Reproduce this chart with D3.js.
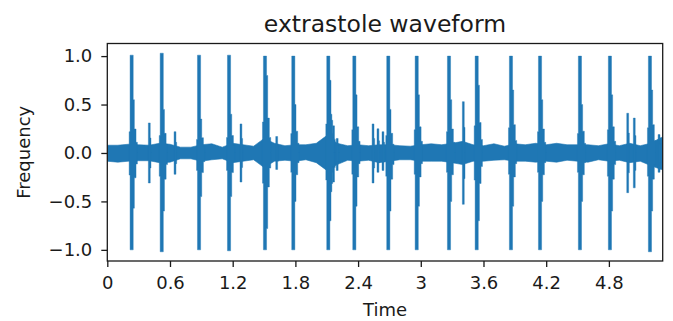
<!DOCTYPE html>
<html>
<head>
<meta charset="utf-8">
<script src="https://cdn.jsdelivr.net/npm/d3@7"></script>
<style>
  body { margin: 0; background: #fff; }
  text { font-family: "DejaVu Sans", sans-serif; }
</style>
</head>
<body>
<svg id="chart" width="673" height="321"></svg>
<script>
// Heart beats: time (s), peak, trough, and the level of the wider "shoulder" around each spike
const beatTimes = [0.233, 0.521, 0.878, 1.165, 1.509, 1.780, 2.115, 2.364, 2.689, 2.961, 3.270, 3.535, 3.863, 4.141, 4.523, 4.810, 5.193];
const beatPeaks = [1.01, 1.03, 1.01, 1.01, 1.0, 1.0, 1.0, 1.0, 1.0, 1.0, 1.0, 1.0, 1.0, 1.0, 1.0, 1.0, 1.0];
const beatTroughs = [-1.0, -1.02, -1.0, -1.01, -1.0, -1.0, -1.0, -1.0, -1.0, -1.0, -1.0, -1.0, -1.0, -1.0, -1.0, -1.0, -1.02];
const beatShoulderUp = [0.55, 0.45, 0.35, 0.4, 0.8, 0.5, 0.75, 0.6, 0.45, 0.6, 0.55, 0.7, 0.65, 0.55, 0.5, 0.6, 0.65];
const beatShoulderLo = [-0.57, -0.6, -0.45, -0.45, -0.78, -0.5, -0.7, -0.55, -0.6, -0.55, -0.5, -0.7, -0.55, -0.5, -0.5, -0.6, -0.6];

// Smaller bursts between the beats
const minorTimes = [0.402, 0.648, 1.279, 1.621, 2.140, 2.165, 2.2, 2.543, 2.59, 2.638, 3.407, 4.98, 5.043, 5.28];
const minorUp = [0.31, 0.22, 0.30, 0.17, 0.40, 0.28, 0.15, 0.30, 0.25, 0.22, 0.53, 0.41, 0.36, 0.19];
const minorLo = [-0.31, -0.22, -0.30, -0.17, -0.40, -0.30, -0.18, -0.31, -0.2, -0.18, -0.53, -0.41, -0.36, -0.2];

// Background noise envelope, every 0.1 s
const noiseTimes = [0.0, 0.1, 0.2, 0.3, 0.4, 0.5, 0.6, 0.7, 0.8, 0.9, 1.0, 1.1, 1.2, 1.3, 1.4, 1.5, 1.6, 1.7, 1.8, 1.9,
  2.0, 2.1, 2.2, 2.3, 2.4, 2.5, 2.6, 2.7, 2.8, 2.9, 3.0, 3.1, 3.2, 3.3, 3.4, 3.5, 3.6, 3.7, 3.8, 3.9,
  4.0, 4.1, 4.2, 4.3, 4.4, 4.5, 4.6, 4.7, 4.8, 4.9, 5.0, 5.1, 5.2, 5.3, 5.32];
const noiseUp = [0.08, 0.08, 0.09, 0.085, 0.08, 0.10, 0.09, 0.06, 0.06, 0.085, 0.095, 0.06, 0.10, 0.085, 0.07, 0.15, 0.10, 0.075, 0.085, 0.085,
  0.10, 0.18, 0.10, 0.075, 0.085, 0.075, 0.085, 0.085, 0.075, 0.07, 0.085, 0.095, 0.085, 0.10, 0.12, 0.085, 0.075, 0.095, 0.07, 0.095,
  0.085, 0.10, 0.085, 0.10, 0.085, 0.085, 0.085, 0.075, 0.095, 0.075, 0.10, 0.075, 0.10, 0.16, 0.16];
const noiseLo = [-0.085, -0.095, -0.085, -0.08, -0.08, -0.10, -0.095, -0.06, -0.06, -0.085, -0.07, -0.06, -0.10, -0.085, -0.07, -0.15, -0.085, -0.075, -0.085, -0.07,
  -0.10, -0.18, -0.12, -0.075, -0.085, -0.075, -0.10, -0.085, -0.07, -0.07, -0.085, -0.085, -0.085, -0.10, -0.12, -0.085, -0.085, -0.075, -0.07, -0.085,
  -0.085, -0.095, -0.085, -0.095, -0.075, -0.085, -0.095, -0.07, -0.085, -0.075, -0.10, -0.085, -0.13, -0.17, -0.17];

const xTickValues = [0, 0.6, 1.2, 1.8, 2.4, 3.0, 3.6, 4.2, 4.8];
const xTickLabels = ["0", "0.6", "1.2", "1.8", "2.4", "3", "3.6", "4.2", "4.8"];
const yTickValues = [-1.0, -0.5, 0.0, 0.5, 1.0];

const width = 673;
const height = 321;
const margin = { top: 43.5, right: 10.3, bottom: 60, left: 107.3 };
const innerW = width - margin.left - margin.right;
const innerH = height - margin.top - margin.bottom;
const color = "#1f77b4";
const textColor = "#1a1a1a";

const svg = d3.select("#chart");

const x = d3.scaleLinear().domain([0, 5.315]).range([margin.left, width - margin.right]);
const y = d3.scaleLinear().domain([-1.115, 1.13]).range([height - margin.bottom, margin.top]);

svg.append("defs").append("clipPath")
    .attr("id", "plot-clip")
  .append("rect")
    .attr("x", margin.left)
    .attr("y", margin.top)
    .attr("width", innerW)
    .attr("height", innerH);

const plot = svg.append("g").attr("clip-path", "url(#plot-clip)");

const area = d3.area()
    .x(d => x(d[0]))
    .y0(d => y(d[2]))
    .y1(d => y(d[1]));

const stepArea = d3.area()
    .curve(d3.curveStepAfter)
    .x(d => x(d[0]))
    .y0(d => y(d[2]))
    .y1(d => y(d[1]));

// noise band
const noise = noiseTimes.map((t, i) => [t, noiseUp[i], noiseLo[i]]);
plot.append("path")
    .attr("class", "noise")
    .attr("d", area(noise))
    .attr("fill", color)
    .attr("stroke", color)
    .attr("stroke-width", 0.6)
    .attr("stroke-linejoin", "round");

// minor bursts
const minorShape = (t, up, lo) => [
    [t - 0.009, up, lo],
    [t + 0.009, up * 0.5, lo * 0.5],
    [t + 0.016, 0, 0]
];
plot.selectAll("path.minor")
    .data(minorTimes.map((t, i) => minorShape(t, minorUp[i], minorLo[i])))
    .join("path")
    .attr("class", "minor")
    .attr("d", stepArea)
    .attr("fill", color)
    .attr("stroke", color)
    .attr("stroke-width", 0.4);

// beats
const beatShape = i => {
    const t = beatTimes[i];
    return [
        [t - 0.024, beatShoulderUp[i] * 0.4, beatShoulderLo[i] * 0.4],
        [t - 0.015, beatPeaks[i], beatTroughs[i]],
        [t + 0.015, beatShoulderUp[i], beatShoulderLo[i]],
        [t + 0.026, beatShoulderUp[i] * 0.45, beatShoulderLo[i] * 0.45],
        [t + 0.042, beatShoulderUp[i] * 0.2, beatShoulderLo[i] * 0.2],
        [t + 0.055, 0, 0]
    ];
};
plot.selectAll("path.beat")
    .data(beatTimes.map((t, i) => beatShape(i)))
    .join("path")
    .attr("class", "beat")
    .attr("d", stepArea)
    .attr("fill", color)
    .attr("stroke", color)
    .attr("stroke-width", 0.4);

// axes
const xAxis = d3.axisBottom(x)
    .tickValues(xTickValues)
    .tickFormat((d, i) => xTickLabels[i])
    .tickSize(6)
    .tickSizeOuter(0)
    .tickPadding(9);

const yAxis = d3.axisLeft(y)
    .tickValues(yTickValues)
    .tickFormat(d3.format(".1f"))
    .tickSize(6)
    .tickSizeOuter(0)
    .tickPadding(9);

const gx = svg.append("g")
    .attr("transform", `translate(0,${height - margin.bottom})`)
    .call(xAxis);
const gy = svg.append("g")
    .attr("transform", `translate(${margin.left},0)`)
    .call(yAxis);

[gx, gy].forEach(g => {
    g.select(".domain").remove();
    g.selectAll(".tick line").attr("stroke", textColor).attr("stroke-width", 1.3);
    g.selectAll(".tick text")
        .attr("fill", textColor)
        .attr("font-size", 18)
        .attr("font-family", "DejaVu Sans, sans-serif");
});

// frame
svg.append("rect")
    .attr("x", margin.left)
    .attr("y", margin.top)
    .attr("width", innerW)
    .attr("height", innerH)
    .attr("fill", "none")
    .attr("stroke", textColor)
    .attr("stroke-width", 1.3);

// labels
svg.append("text")
    .attr("x", margin.left + innerW / 2)
    .attr("y", 31.5)
    .attr("text-anchor", "middle")
    .attr("font-size", 23.5)
    .attr("fill", textColor)
    .text("extrastole waveform");

svg.append("text")
    .attr("x", margin.left + innerW / 2)
    .attr("y", 316)
    .attr("text-anchor", "middle")
    .attr("font-size", 18)
    .attr("fill", textColor)
    .text("Time");

svg.append("text")
    .attr("transform", `translate(30,${margin.top + innerH / 2}) rotate(-90)`)
    .attr("text-anchor", "middle")
    .attr("font-size", 18)
    .attr("fill", textColor)
    .text("Frequency");
</script>
</body>
</html>
